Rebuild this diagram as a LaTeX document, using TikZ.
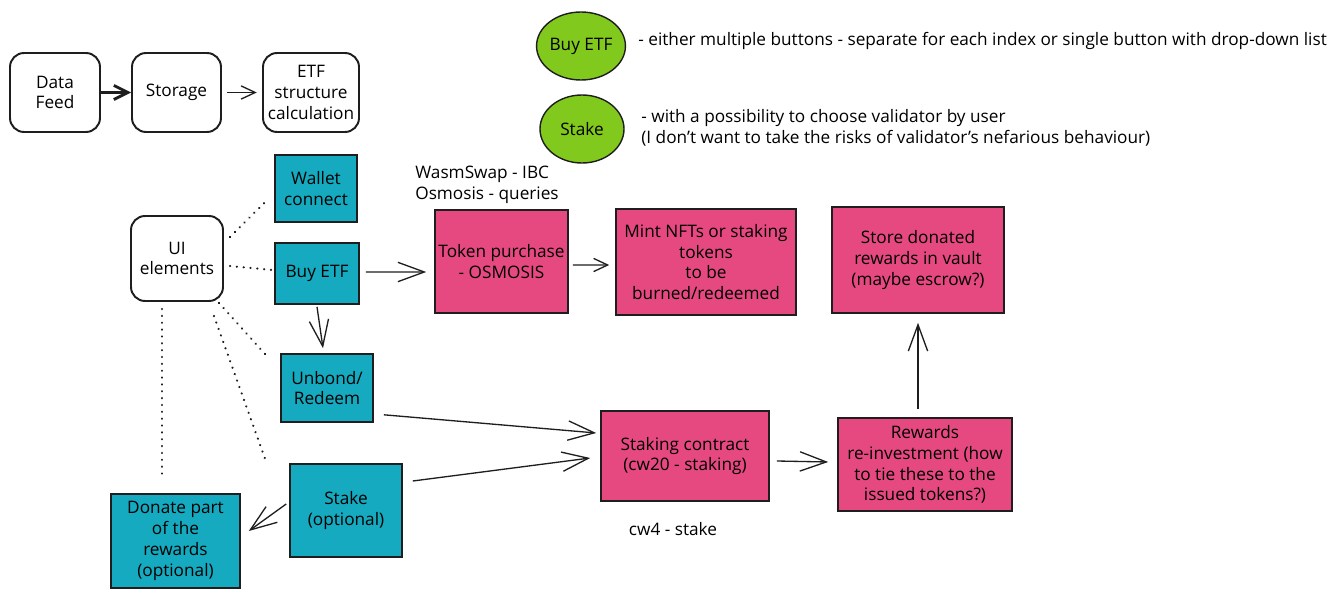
\documentclass[tikz,border=0pt]{standalone}
\usepackage{fontspec}
\setmainfont{Open Sans}
\usetikzlibrary{arrows.meta,shapes.geometric,calc}
\definecolor{ink}{HTML}{1E1E1E}
\definecolor{teal1}{HTML}{15AABF}
\definecolor{pink1}{HTML}{E64980}
\definecolor{green1}{HTML}{82C91E}
\begin{document}
\begin{tikzpicture}[x=0.02cm,y=-0.02cm,
  font=\fontsize{9.8}{11.8}\selectfont,
  sz/.style 2 args={minimum width=#1*0.02cm, minimum height=#2*0.02cm},
  rbox/.style={draw=ink, line width=1.1pt, rounded corners=8pt, inner sep=0pt, align=center},
  tbox/.style={draw=ink, fill=teal1, line width=0.9pt, inner sep=0pt, align=center},
  pbox/.style={draw=ink, fill=pink1, line width=0.9pt, inner sep=0pt, align=center},
  gell/.style={ellipse, draw=ink, fill=green1, line width=0.8pt, inner sep=0pt},
  plain/.style={inner sep=0pt, align=left},
  arr/.style={draw=ink, line width=0.75pt, -{Straight Barb[length=15pt,width=11pt]}},
  sarr/.style={draw=ink, line width=0.75pt, -{Straight Barb[length=8pt,width=7.5pt]}},
  tarr/.style={draw=ink, line width=1.6pt, -{Straight Barb[length=8pt,width=8pt]}},
  dotline/.style={draw=ink, line width=1.3pt, dash pattern=on 0.1pt off 3.8pt, line cap=round},
]
\fill[white] (0,0) rectangle (1343,598);
\useasboundingbox (0,0) rectangle (1343,598);

% top row
\node[rbox, sz={90}{79}] (df) at (55,92.5) {Data\\Feed};
\node[rbox, sz={89}{79}] (st) at (176.5,92.5) {Storage};
\node[rbox, sz={96}{79}] (etf) at (311,92.5) {ETF\\structure\\calculation};

% legend
\node[gell, sz={86}{68}] (g1) at (581,46) {Buy ETF};
\node[gell, sz={84}{68}] (g2) at (582,129) {Stake};
\node[plain, anchor=west] (n1) at (638,41) {- either multiple buttons - separate for each index or single button with drop-down list};
\node[plain, anchor=west] (n2) at (641,127.5) {- with a possibility to choose validator by user\\(I don't want to take the risks of validator's nefarious behaviour)};

% UI
\node[rbox, sz={92}{85}] (ui) at (177,258.5) {UI\\elements};
\node[tbox, sz={82}{67}] (wal) at (316,188.5) {Wallet\\connect};
\node[tbox, sz={84}{61}] (buy) at (317,273.5) {Buy ETF};
\node[tbox, sz={92}{68}] (unb) at (327,388) {Unbond/\\Redeem};
\node[tbox, sz={112}{93}] (stk) at (346,510.5) {Stake\\(optional)};
\node[tbox, sz={129}{94}] (don) at (175.5,541) {Donate part\\of the\\rewards\\(optional)};

% pink
\node[plain, anchor=west] (wasm) at (415,184.5) {WasmSwap - IBC\\Osmosis - queries};
\node[pbox, sz={133}{103}] (tok) at (501.5,261.5) {Token purchase\\- OSMOSIS};
\node[pbox, sz={180}{106}] (mint) at (706,262) {Mint NFTs or staking\\tokens\\to be\\burned/redeemed};
\node[pbox, sz={172}{106}] (store) at (918,260) {Store donated\\rewards in vault\\(maybe escrow?)};
\node[pbox, sz={168}{90}] (stc) at (685,456) {Staking contract\\(cw20 - staking)};
\node[pbox, sz={174}{93}] (rew) at (925,464.5) {Rewards\\re-investment (how\\to tie these to the\\issued tokens?)};
\node[plain] (cw4) at (673,529) {cw4 - stake};

% top arrows
\draw[tarr] (df.east) -- (st.west);
\draw[sarr] ([xshift=3pt]st.east) -- ([xshift=-3pt]etf.west);

% dotted
\draw[dotline] ([shift={(6,-21.5)}]ui.east) -- ([shift={(-7,11.5)}]wal.west);
\draw[dotline] ([shift={(6,7.5)}]ui.east) -- ([shift={(-2,-3.5)}]buy.west);
\draw[dotline] ([shift={(-5,1)}]ui.south east) -- ([shift={(-15,1)}]unb.north west);
\draw[dotline] ([shift={(-10,14)}]ui.south east) -- ([shift={(-24,-4)}]stk.north west);
\draw[dotline] ([shift={(-15,7)}]ui.south) -- ([shift={(-13.5,-14)}]don.north);

% arrows
\draw[arr] ([shift={(0,2)}]buy.south) -- ([shift={(-4,-5)}]unb.north);
\draw[arr] ([shift={(6,-1.5)}]buy.east) -- ([shift={(-8,10.5)}]tok.west);
\draw[sarr] ([shift={(4,3.5)}]tok.east) -- ([shift={(-6,3)}]mint.west);
\draw[arr] ([shift={(10,-8)}]unb.south east) -- ([shift={(-4,-23)}]stc.west);
\draw[arr] ([shift={(10,-29.5)}]stk.east) -- ([shift={(-10,2)}]stc.west);
\draw[arr] ([shift={(-3,-6.5)}]stk.west) -- ([shift={(8,-10)}]don.east);
\draw[arr] ([shift={(7,5)}]stc.east) -- ([shift={(-9,-2.5)}]rew.west);
\draw[arr] ([shift={(-7,-8)}]rew.north) -- ([shift={(0,9)}]store.south);
\end{tikzpicture}
\end{document}
